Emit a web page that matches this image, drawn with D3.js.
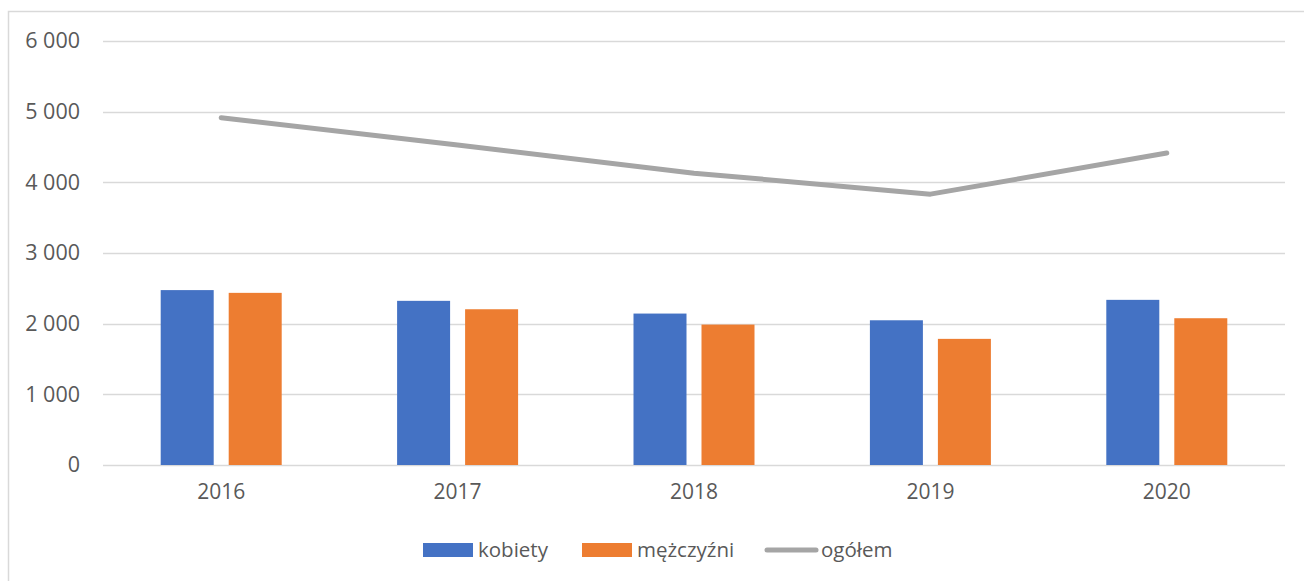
<!DOCTYPE html>
<html>
<head>
<meta charset="utf-8">
<script src="https://cdn.jsdelivr.net/npm/d3@7"></script>
<style>
  html, body { margin: 0; padding: 0; background: #fff; }
  svg { display: block; }
</style>
</head>
<body>
<div id="chart"></div>
<script>
// --- data ---
const years = ["2016", "2017", "2018", "2019", "2020"];
const kobiety = [2475, 2323, 2143, 2048, 2337];
const mezczyzni = [2436, 2204, 1987, 1785, 2077];
const ogolem = [4915, 4527, 4130, 3833, 4414];
const yTicks = [0, 1000, 2000, 3000, 4000, 5000, 6000];
const seriesNames = ["kobiety", "mężczyźni", "ogółem"];

const W = 1304, H = 581;
const FONT = "'Open Sans', 'Noto Sans', sans-serif";
const margin = { top: 41, right: 20, bottom: 116, left: 103 };
const width = 1285 - margin.left;
const height = 465 - margin.top;

const COL_BLUE = "#4472C4", COL_ORANGE = "#ED7D31", COL_GRAY = "#A5A5A5";
const TEXT = "#595959";

const svg = d3.select("#chart").append("svg")
  .attr("width", W).attr("height", H)
  .attr("font-family", FONT);

// chart border (left + top visible in the reference)
svg.append("rect")
  .attr("x", 8.5).attr("y", 11.5)
  .attr("width", W + 10).attr("height", H + 10)
  .attr("fill", "none").attr("stroke", "#D9D9D9").attr("stroke-width", 1.5);

const g = svg.append("g").attr("transform", `translate(${margin.left},${margin.top})`);

const x = d3.scaleBand().domain(years).range([0, width]);
const y = d3.scaleLinear().domain([0, 6000]).range([height, 0]);

// gridlines
g.append("g").selectAll("line").data(yTicks).join("line")
  .attr("x1", 0).attr("x2", width)
  .attr("y1", d => Math.round(y(d)) + 0.5).attr("y2", d => Math.round(y(d)) + 0.5)
  .attr("stroke", "#D9D9D9").attr("stroke-width", 1.3);

// y axis labels
const fmt = v => d3.format(",")(v).replace(/,/g, " ");
const yAxis = g.append("g")
  .call(d3.axisLeft(y).tickValues(yTicks).tickFormat(fmt).tickSize(0).tickPadding(23))
  .attr("font-family", FONT).attr("font-size", 21.5);
yAxis.select(".domain").remove();
yAxis.selectAll("text").attr("fill", TEXT);

// x axis labels
const xAxis = g.append("g").attr("transform", `translate(0,${height})`)
  .call(d3.axisBottom(x).tickSize(0).tickPadding(19))
  .attr("font-family", FONT).attr("font-size", 21);
xAxis.select(".domain").remove();
xAxis.selectAll("text").attr("fill", TEXT);

// bars
const barW = 53, gap = 15;
const sub = d3.scaleOrdinal().domain(["k", "m"]).range([-(gap / 2 + barW), gap / 2]);
const barData = years.flatMap((yr, i) => [
  { yr, key: "k", v: kobiety[i], c: COL_BLUE },
  { yr, key: "m", v: mezczyzni[i], c: COL_ORANGE }
]);
g.append("g").selectAll("rect").data(barData).join("rect")
  .attr("x", d => x(d.yr) + x.bandwidth() / 2 + sub(d.key))
  .attr("y", d => y(d.v))
  .attr("width", barW)
  .attr("height", d => height - y(d.v))
  .attr("fill", d => d.c);

// total line
const line = d3.line()
  .x((d, i) => x(years[i]) + x.bandwidth() / 2)
  .y(d => y(d));
g.append("path").datum(ogolem)
  .attr("d", line)
  .attr("fill", "none").attr("stroke", COL_GRAY)
  .attr("stroke-width", 5).attr("stroke-linecap", "round").attr("stroke-linejoin", "round");

// legend
const legend = svg.append("g").attr("transform", "translate(0,550)")
  .attr("font-size", 20.5);
const legItems = [
  { name: seriesNames[0], x: 423, type: "rect", c: COL_BLUE },
  { name: seriesNames[1], x: 582, type: "rect", c: COL_ORANGE },
  { name: seriesNames[2], x: 765, type: "line", c: COL_GRAY }
];
legItems.forEach(it => {
  if (it.type === "rect") {
    legend.append("rect").attr("x", it.x).attr("y", -7).attr("width", 50).attr("height", 14).attr("fill", it.c);
  } else {
    legend.append("line").attr("x1", it.x + 2).attr("x2", it.x + 51).attr("y1", 0).attr("y2", 0)
      .attr("stroke", it.c).attr("stroke-width", 5).attr("stroke-linecap", "round");
  }
  legend.append("text").attr("x", it.x + (it.type === "rect" ? 55 : 56)).attr("y", 0)
    .attr("dy", "0.35em").attr("fill", TEXT).text(it.name);
});
</script>
</body>
</html>
